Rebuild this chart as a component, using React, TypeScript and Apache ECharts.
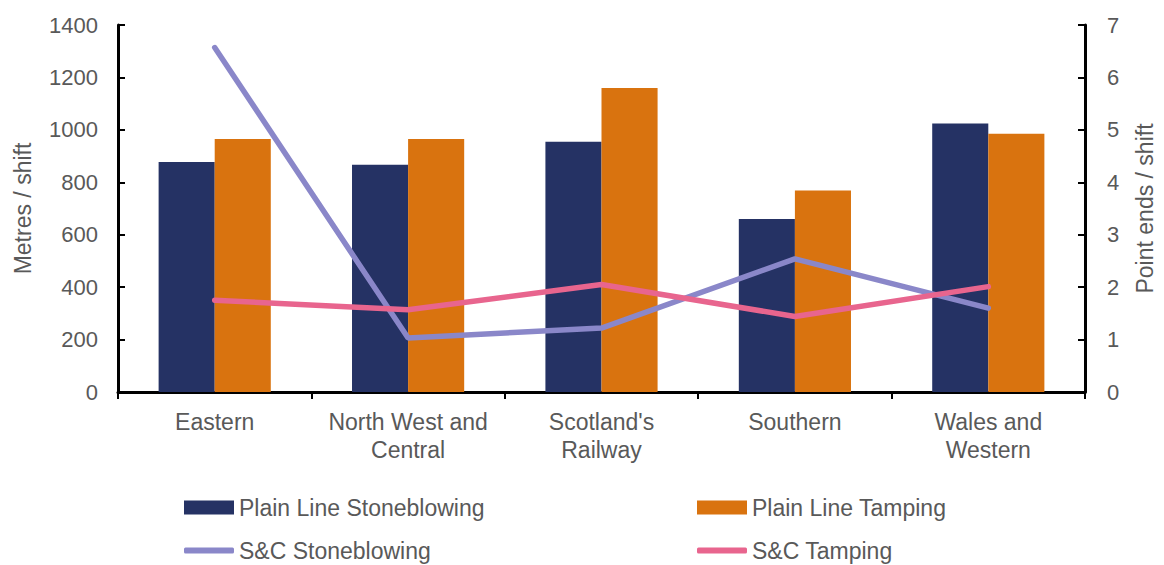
import React, { useEffect, useRef } from "react";
import * as echarts from "echarts";

const categories = [
  "Eastern",
  "North West and\nCentral",
  "Scotland's\nRailway",
  "Southern",
  "Wales and\nWestern",
];
const plainLineStoneblowing = [877, 867, 955, 660, 1024];
const plainLineTamping = [965, 965, 1160, 769, 985];
const sncStoneblowing = [6.57, 1.03, 1.22, 2.54, 1.6];
const sncTamping = [1.75, 1.57, 2.05, 1.44, 2.01];
const leftTicks = { min: 0, max: 1400, interval: 200 };
const rightTicks = { min: 0, max: 7, interval: 1 };

const NAVY = "#253264";
const ORANGE = "#D9730F";
const LAVENDER = "#8A87C9";
const PINK = "#E8658E";
const GREY = "#595959";
const FONT = "Liberation Sans, Arial, sans-serif";

export default function App() {
  const ref = useRef<HTMLDivElement>(null);
  useEffect(() => {
    document.body.style.margin = "0";
    const chart = echarts.init(ref.current!, null, { renderer: "svg", width: 1164, height: 565 });
    const legendText = { fontSize: 23, color: GREY, fontFamily: FONT };
    const axisLine = { show: true, lineStyle: { color: "#000", width: 3 } };
    const axisTick = { show: true, length: 7, lineStyle: { color: "#000", width: 2 } };
    const plain = (v: number) => String(v);
    const lg = { padding: 0, itemWidth: 50, itemGap: 6, textStyle: legendText };
    chart.setOption({
      animation: false,
      textStyle: { fontFamily: FONT },
      grid: { left: 118, width: 974, top: 25, height: 367, containLabel: false },
      legend: [
        { ...lg, data: ["Plain Line Stoneblowing"], left: 184, top: 496, itemHeight: 14, icon: "rect" },
        { ...lg, data: ["Plain Line Tamping"], left: 697, top: 496, itemHeight: 14, icon: "rect" },
        { ...lg, data: ["S&C Stoneblowing"], left: 184, top: 539, itemHeight: 6, icon: "roundRect" },
        { ...lg, data: ["S&C Tamping"], left: 697, top: 539, itemHeight: 6, icon: "roundRect" },
      ],
      xAxis: {
        type: "category",
        data: categories,
        axisLine,
        axisTick: { ...axisTick, interval: 0 },
        axisLabel: { fontSize: 23, color: GREY, margin: 16, lineHeight: 28, fontFamily: FONT, interval: 0 },
        splitLine: { show: false },
      },
      yAxis: [
        {
          type: "value",
          ...leftTicks,
          name: "Metres / shift",
          nameLocation: "middle",
          nameGap: 84,
          nameRotate: 90,
          nameTextStyle: { fontSize: 23, color: GREY, fontFamily: FONT },
          axisLine,
          axisTick: { ...axisTick, inside: true },
          axisLabel: { fontSize: 22, color: GREY, margin: 20, fontFamily: FONT, formatter: plain },
          splitLine: { show: false },
        },
        {
          type: "value",
          ...rightTicks,
          position: "right",
          name: "Point ends / shift",
          nameLocation: "middle",
          nameGap: 48,
          nameRotate: 90,
          nameTextStyle: { fontSize: 23, color: GREY, fontFamily: FONT },
          axisLine,
          axisTick: { ...axisTick, inside: true },
          axisLabel: { fontSize: 22, color: GREY, margin: 22, fontFamily: FONT, formatter: plain },
          splitLine: { show: false },
        },
      ],
      series: [
        {
          name: "Plain Line Stoneblowing",
          type: "bar",
          data: plainLineStoneblowing,
          itemStyle: { color: NAVY },
          barGap: "0%",
          barCategoryGap: "42%",
        },
        {
          name: "Plain Line Tamping",
          type: "bar",
          data: plainLineTamping,
          itemStyle: { color: ORANGE },
          barGap: "0%",
          barCategoryGap: "42%",
        },
        {
          name: "S&C Stoneblowing",
          type: "line",
          yAxisIndex: 1,
          data: sncStoneblowing,
          symbol: "none",
          lineStyle: { color: LAVENDER, width: 5.5, cap: "round" },
          itemStyle: { color: LAVENDER },
        },
        {
          name: "S&C Tamping",
          type: "line",
          yAxisIndex: 1,
          data: sncTamping,
          symbol: "none",
          lineStyle: { color: PINK, width: 5.5, cap: "round" },
          itemStyle: { color: PINK },
        },
      ],
    });
    return () => chart.dispose();
  }, []);
  return <div ref={ref} style={{ width: 1164, height: 565 }} />;
}
